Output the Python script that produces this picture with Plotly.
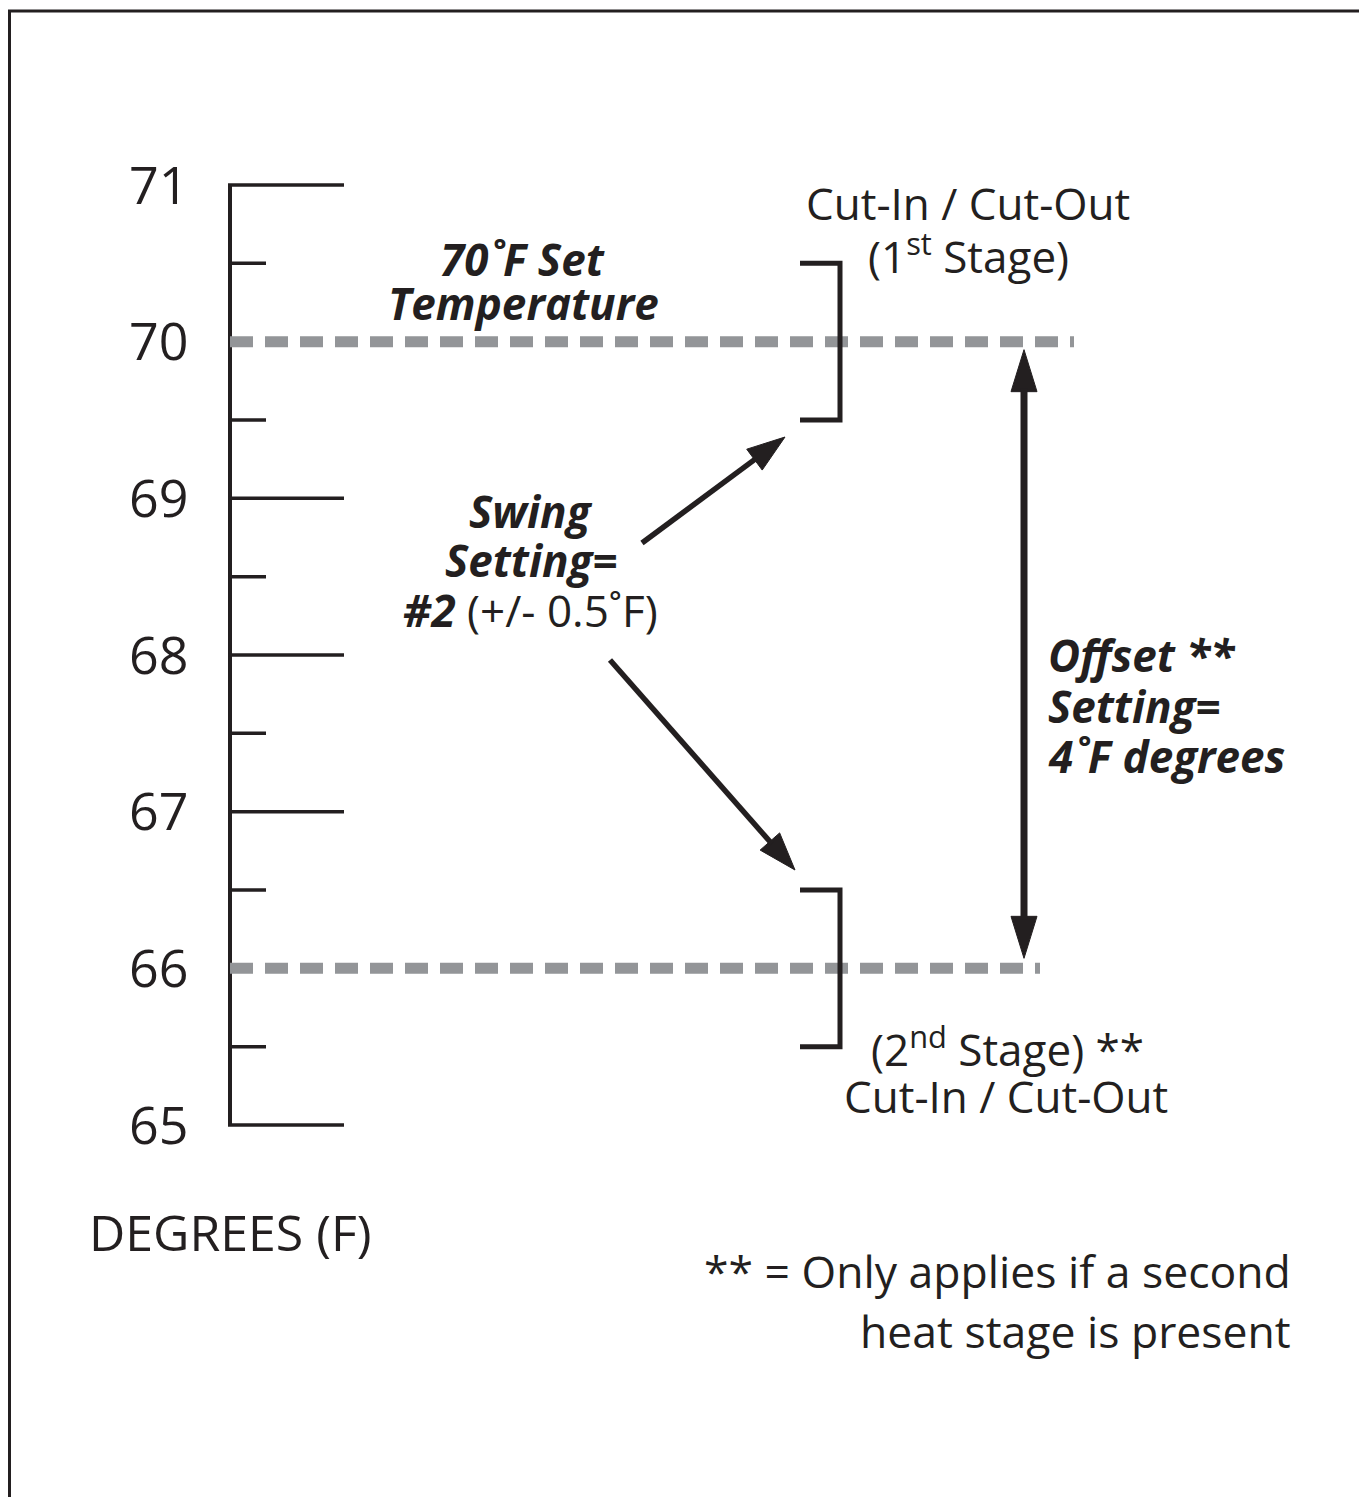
import math
import plotly.graph_objects as go

# ---------------- data ----------------
major_ticks = [65, 66, 67, 68, 69, 70, 71]
tick_labels = ["65", "66", "67", "68", "69", "70", "71"]
minor_ticks = [65.5, 66.5, 67.5, 68.5, 69.5, 70.5]
set_temp = 70          # set temperature (F)
swing = 0.5            # swing setting #2 -> +/- 0.5 F
swing_setting = 2
offset = 4             # offset setting (F)
stage2_temp = set_temp - offset

# ---------------- layout helpers ----------------
W, H = 1359, 1497
INK = "#231f20"
GRAY = "#939598"
FONT = "Open Sans"

Y_LO, Y_HI = min(major_ticks), max(major_ticks)
PY_LO, PY_HI = 1125, 185          # pixel rows of the lowest / highest degree
K = (PY_LO - PY_HI) / (Y_HI - Y_LO)


def deg(py):
    """pixel row -> degree value on the y scale"""
    return Y_LO + (PY_LO - py) / K


def pix(d):
    return PY_LO - (d - Y_LO) * K


AX_X = 230
MAJ_LEN, MIN_LEN = 114, 36

fig = go.Figure()

# axis spine
fig.add_trace(go.Scatter(x=[AX_X, AX_X], y=[Y_LO, Y_HI], mode="lines",
                         line=dict(color=INK, width=4), hoverinfo="skip"))
# major ticks (hidden where a dashed reference line sits)
mx, my = [], []
for t in major_ticks:
    if t in (set_temp, stage2_temp):
        continue
    mx += [AX_X - 2, AX_X + MAJ_LEN, None]
    my += [t, t, None]
fig.add_trace(go.Scatter(x=mx, y=my, mode="lines",
                         line=dict(color=INK, width=3.5), hoverinfo="skip"))
# minor ticks
nx, ny = [], []
for t in minor_ticks:
    nx += [AX_X, AX_X + MIN_LEN, None]
    ny += [t, t, None]
fig.add_trace(go.Scatter(x=nx, y=ny, mode="lines",
                         line=dict(color=INK, width=3.5), hoverinfo="skip"))
# tick labels
for t, lab in zip(major_ticks, tick_labels):
    fig.add_annotation(x=190, y=t, xref="x", yref="y", text=lab, showarrow=False,
                       xanchor="right", yanchor="middle", yshift=2,
                       font=dict(family=FONT, size=52, color=INK))

# dashed reference lines
fig.add_trace(go.Scatter(x=[AX_X, 1074], y=[set_temp, set_temp], mode="lines",
                         line=dict(color=GRAY, width=11, dash="23px,12px"),
                         hoverinfo="skip"))
fig.add_trace(go.Scatter(x=[AX_X, 1040], y=[stage2_temp, stage2_temp], mode="lines",
                         line=dict(color=GRAY, width=11, dash="23px,12px"),
                         hoverinfo="skip"))

# brackets (cut-in / cut-out)
for c in (set_temp, stage2_temp):
    fig.add_trace(go.Scatter(x=[800, 840, 840, 800],
                             y=[c + swing, c + swing, c - swing, c - swing],
                             mode="lines", line=dict(color=INK, width=5),
                             hoverinfo="skip"))


# arrows (drawn in pixel geometry, converted to the degree scale)
def head(tx, ty, dx, dy, hl, hw):
    bx, by = tx - dx * hl, ty - dy * hl
    nx_, ny_ = -dy, dx
    pts = [(tx, ty), (bx + nx_ * hw / 2, by + ny_ * hw / 2),
           (bx - nx_ * hw / 2, by - ny_ * hw / 2), (tx, ty)]
    fig.add_trace(go.Scatter(x=[p[0] for p in pts], y=[deg(p[1]) for p in pts],
                             mode="lines", fill="toself", fillcolor=INK,
                             line=dict(color=INK, width=1), hoverinfo="skip"))
    return bx, by


def arrow(x0, y0, x1, y1, hl, hw, sw, both=False):
    L = math.hypot(x1 - x0, y1 - y0)
    dx, dy = (x1 - x0) / L, (y1 - y0) / L
    ex, ey = head(x1, y1, dx, dy, hl, hw)
    ex, ey = ex + dx * 3, ey + dy * 3
    sx, sy = x0, y0
    if both:
        sx, sy = head(x0, y0, -dx, -dy, hl, hw)
        sx, sy = sx - dx * 3, sy - dy * 3
    fig.add_trace(go.Scatter(x=[sx, ex], y=[deg(sy), deg(ey)], mode="lines",
                             line=dict(color=INK, width=sw), hoverinfo="skip"))


arrow(642, 543, 785, 437, 38, 26, 5.5)
arrow(610, 660, 795, 870, 38, 26, 5.5)
arrow(1024, pix(set_temp) + 8, 1024, pix(stage2_temp) - 10, 42, 26, 7, both=True)

# ---------------- text ----------------
def txt(s, x, py, size=44, anchor="center"):
    fig.add_annotation(x=x, y=deg(py), xref="x", yref="y", text=s, showarrow=False,
                       xanchor=anchor, yanchor="middle",
                       font=dict(family=FONT, size=size, color=INK))


B = 44  # bold italic size
txt("Cut-In / Cut-Out", 968, 203)
txt("(1<sup>st</sup> Stage)", 968, 254)
txt(f"<b><i>{set_temp}˚F Set</i></b>", 522, 259, B)
txt("<b><i>Temperature</i></b>", 523, 303, B)
txt("<b><i>Swing</i></b>", 531, 511, B)
txt("<b><i>Setting=</i></b>", 531, 560, B)
txt(f"<b><i>#{swing_setting}</i></b> (+/- {swing}˚F)", 530, 610, B)
txt("<b><i>Offset **</i></b>", 1046, 655, B, "left")
txt("<b><i>Setting=</i></b>", 1046, 706, B, "left")
txt(f"<b><i>{offset}˚F degrees</i></b>", 1046, 756, B, "left")
txt("(2<sup>nd</sup> Stage) **", 1007, 1047)
txt("Cut-In / Cut-Out", 1006, 1096)
txt("DEGREES (F)", 230, 1232, 50)
txt("** = Only applies if a second", 1293, 1270, 44.5, "right")
txt("heat stage is present", 1293, 1330, 44.5, "right")

# frame (only left and top edges fall inside the picture)
fig.add_shape(type="rect", xref="paper", yref="paper",
              x0=9.5 / W, x1=1.05, y0=-0.05, y1=1 - 11 / H,
              line=dict(color=INK, width=3))

fig.update_layout(
    width=W, height=H, margin=dict(l=0, r=0, t=0, b=0),
    paper_bgcolor="white", plot_bgcolor="white", showlegend=False,
    xaxis=dict(range=[0, W], visible=False, fixedrange=True),
    yaxis=dict(range=[deg(H), deg(0)], visible=False, fixedrange=True),
)

fig.write_html("out.html", config={"displayModeBar": False},
               post_script="document.body.style.margin='0';document.body.style.overflow='hidden';")
